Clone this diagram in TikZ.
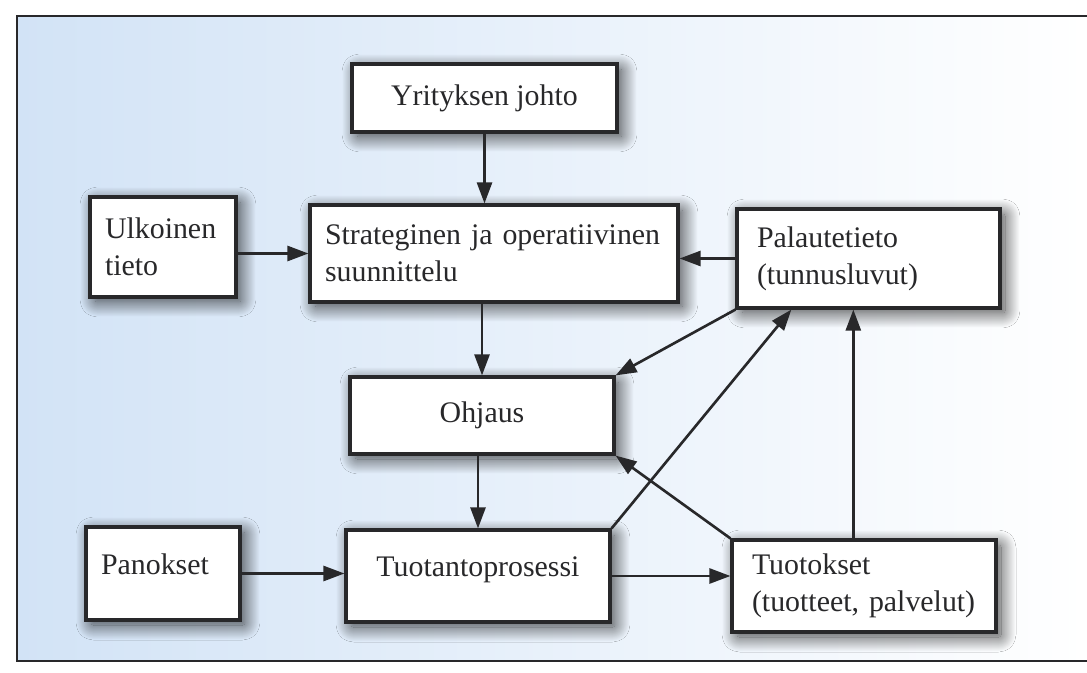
\documentclass[tikz,border=0pt]{standalone}
\usepackage{fontspec}
\setmainfont{Liberation Serif}
\usepackage{xcolor}
\usepackage{tikz}
\usetikzlibrary{arrows.meta,calc,shadows.blur}
\definecolor{bgblue}{RGB}{210,227,246}
\definecolor{inkgray}{RGB}{40,40,42}
\tikzset{box/.style={draw=inkgray, line width=1.8pt, fill=white, text=inkgray,
    font=\fontsize{17}{21}\selectfont, inner xsep=0.3cm,
    blur shadow={shadow xshift=0.1cm, shadow yshift=-0.1cm, shadow blur radius=0.3cm,
      shadow blur extra rounding=0.05cm, shadow blur steps=40, shadow opacity=75}},
  flow/.style={draw=inkgray, line width=1.5pt, -{Triangle[length=0.42cm,width=0.3cm]}}}

\begin{document}
\begin{tikzpicture}[x=0.02cm,y=-0.02cm]
\useasboundingbox (0,0) rectangle (1087,672);
\shade[left color=bgblue, middle color=bgblue!55, right color=white] (17,16) rectangle (1087,661);
\draw[inkgray, line width=1.6pt] (1087,16) -- (17,16) -- (17,661) -- (1087,661);
\node[box, minimum width=5.3cm, minimum height=1.36cm] (johto) at (484.5,98) {Yrityksen johto};
\node[box, minimum width=2.92cm, minimum height=2cm, text width=2.32cm, align=left] (ulko) at (163,247) {Ulkoinen\\tieto};
\node[box, minimum width=7.36cm, minimum height=1.94cm, text width=6.76cm, align=left] (strat) at (494,253.5) {Strateginen ja operatiivinen\\suunnittelu};
\node[box, minimum width=5.26cm, minimum height=1.98cm, inner xsep=0.4cm, text width=4.46cm, align=left] (pala) at (868.5,258.5) {Palautetieto\\(tunnusluvut)};
\node[box, minimum width=5.28cm, minimum height=1.54cm] (ohj) at (482,415.5) {Ohjaus};
\node[box, minimum width=3.08cm, minimum height=1.86cm, text width=2.48cm, align=left, text depth=1.1em] (pan) at (163,573.5) {Panokset};
\node[box, minimum width=5.28cm, minimum height=1.84cm, text depth=1.1em] (tuot) at (478,576) {Tuotantoprosessi};
\node[box, minimum width=5.28cm, minimum height=1.84cm, inner xsep=0.4cm, text width=4.48cm, align=left] (tuok) at (864,586) {Tuotokset\\(tuotteet, palvelut)};
\coordinate (tap) at ($(pala.south west)!0.21!(pala.south east)$);
\coordinate (tup) at ($(tuok.north west)!0.46!(tuok.north east)$);
\draw[flow] (johto.south) -- (johto.south |- strat.north);
\draw[flow] (strat.west -| ulko.east) -- (strat.west);
\draw[flow] (pala.west) -- (pala.west -| strat.east);
\draw[flow] (ohj.north |- strat.south) -- (ohj.north);
\draw[flow] (tuot.north |- ohj.south) -- (tuot.north);
\draw[flow] (pala.south west) -- (ohj.north east);
\draw[flow] (tuot.north east) -- (tap);
\draw[flow] (tuok.north west) -- (ohj.south east);
\draw[flow] (tup) -- (tup |- pala.south);
\draw[flow] (pan.east) -- (pan.east -| tuot.west);
\draw[flow] (tuot.east) -- (tuot.east -| tuok.west);
\end{tikzpicture}
\end{document}
